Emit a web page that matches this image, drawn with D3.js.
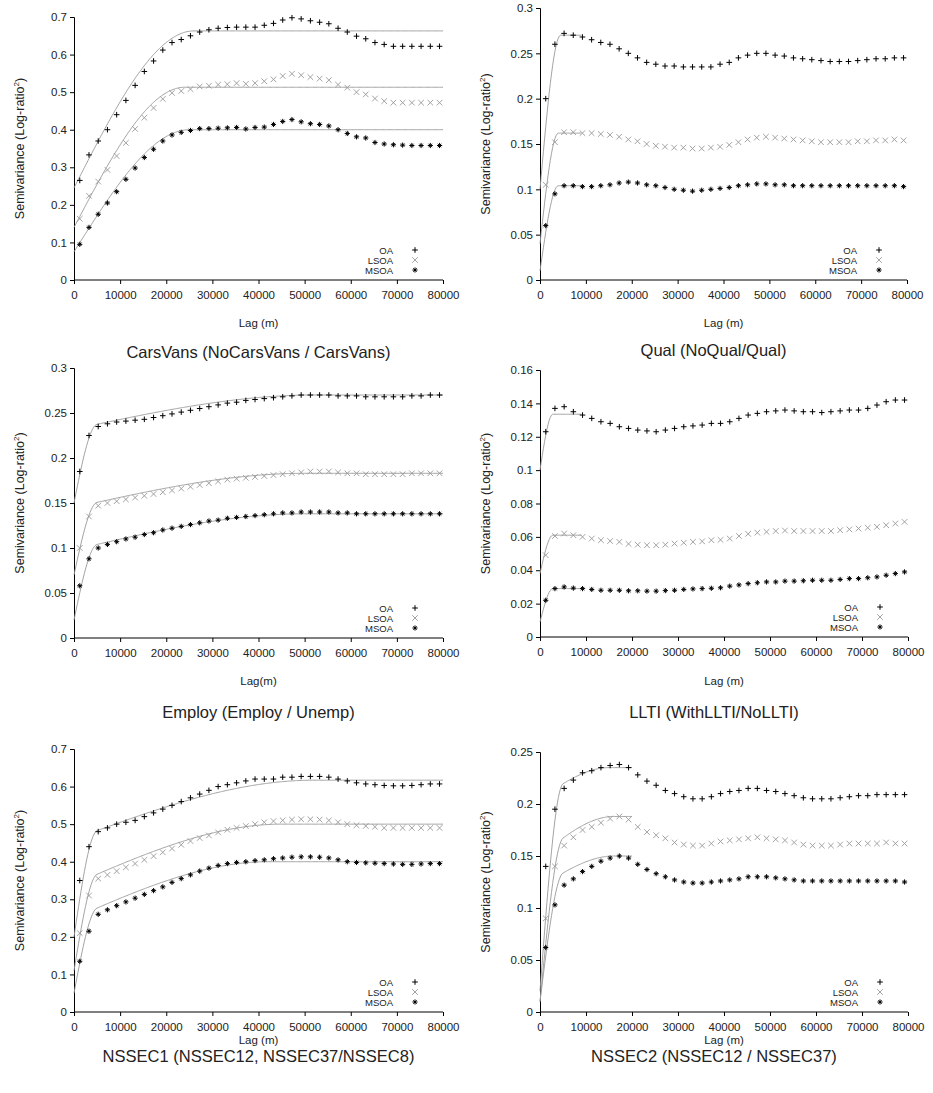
<!DOCTYPE html>
<html><head><meta charset="utf-8">
<script src="https://cdn.jsdelivr.net/npm/d3@7"></script>
<style>body{margin:0;background:#fff;font-family:"Liberation Sans",Arial,sans-serif}</style>
</head><body>
<script>
// lag centres (m), one bin every 2000 m
const lags = d3.range(40).map(i => 1250 + 2000 * i)
const xTicks = d3.range(0, 80001, 10000)

const titles = ['CarsVans (NoCarsVans / CarsVans)', 'Qual (NoQual/Qual)', 'Employ (Employ / Unemp)',
    'LLTI (WithLLTI/NoLLTI)', 'NSSEC1 (NSSEC12, NSSEC37/NSSEC8)', 'NSSEC2 (NSSEC12 / NSSEC37)']
const xLabels = ['Lag (m)', 'Lag (m)', 'Lag(m)', 'Lag (m)', 'Lag (m)', 'Lag (m)']
const yMax = [0.7, 0.3, 0.3, 0.16, 0.7, 0.25]
const yStep = [0.1, 0.05, 0.05, 0.02, 0.1, 0.05]

const carsOA = [0.265,0.333,0.37,0.40,0.44,0.478,0.518,0.555,0.583,0.612,0.632,0.64,0.65,0.66,0.666,0.67,0.672,0.673,0.673,0.673,0.678,0.683,0.692,0.698,0.695,0.69,0.686,0.682,0.67,0.66,0.649,0.642,0.632,0.627,0.622,0.622,0.622,0.622,0.622,0.622]
const carsLSOA = [0.163,0.224,0.262,0.293,0.33,0.365,0.402,0.432,0.458,0.482,0.498,0.503,0.508,0.515,0.517,0.52,0.521,0.524,0.522,0.524,0.529,0.534,0.543,0.549,0.545,0.54,0.536,0.532,0.52,0.512,0.5,0.494,0.483,0.476,0.472,0.472,0.472,0.472,0.472,0.472]
const carsMSOA = [0.095,0.14,0.175,0.205,0.235,0.268,0.298,0.326,0.348,0.37,0.386,0.393,0.398,0.403,0.403,0.404,0.405,0.406,0.402,0.406,0.407,0.414,0.422,0.427,0.421,0.416,0.414,0.41,0.4,0.39,0.381,0.378,0.366,0.362,0.36,0.359,0.358,0.358,0.358,0.358]

const qualOA = [0.2,0.26,0.272,0.27,0.268,0.265,0.262,0.26,0.255,0.25,0.245,0.24,0.238,0.236,0.236,0.235,0.235,0.235,0.235,0.238,0.24,0.245,0.248,0.25,0.25,0.248,0.247,0.245,0.244,0.243,0.242,0.241,0.241,0.241,0.242,0.243,0.244,0.244,0.245,0.245]
const qualLSOA = [0.105,0.152,0.163,0.163,0.162,0.162,0.161,0.16,0.158,0.155,0.153,0.15,0.148,0.147,0.146,0.146,0.145,0.145,0.146,0.147,0.149,0.152,0.155,0.157,0.158,0.157,0.156,0.155,0.154,0.153,0.152,0.152,0.152,0.152,0.153,0.153,0.154,0.154,0.155,0.154]
const qualMSOA = [0.06,0.095,0.104,0.104,0.103,0.103,0.104,0.105,0.107,0.108,0.107,0.105,0.104,0.102,0.1,0.099,0.098,0.099,0.1,0.101,0.102,0.104,0.105,0.106,0.106,0.105,0.105,0.104,0.104,0.104,0.104,0.104,0.104,0.104,0.104,0.104,0.104,0.104,0.104,0.103]

const empOA = [0.185,0.225,0.235,0.238,0.24,0.241,0.242,0.243,0.245,0.247,0.249,0.251,0.253,0.255,0.257,0.259,0.261,0.262,0.264,0.265,0.266,0.267,0.268,0.269,0.27,0.27,0.27,0.27,0.269,0.269,0.269,0.268,0.268,0.268,0.268,0.268,0.269,0.269,0.27,0.27]
const empLSOA = [0.1,0.135,0.147,0.15,0.152,0.154,0.156,0.158,0.16,0.162,0.164,0.166,0.168,0.17,0.172,0.174,0.176,0.177,0.178,0.179,0.18,0.181,0.182,0.183,0.184,0.185,0.185,0.185,0.184,0.183,0.183,0.182,0.182,0.182,0.182,0.182,0.183,0.183,0.183,0.183]
const empMSOA = [0.058,0.088,0.1,0.104,0.107,0.11,0.112,0.115,0.117,0.12,0.122,0.124,0.126,0.128,0.13,0.131,0.133,0.134,0.135,0.136,0.137,0.138,0.139,0.139,0.14,0.14,0.14,0.14,0.139,0.139,0.138,0.138,0.138,0.138,0.138,0.138,0.138,0.138,0.138,0.138]

const lltiOA = [0.123,0.137,0.138,0.135,0.133,0.131,0.129,0.128,0.126,0.125,0.124,0.1235,0.123,0.124,0.125,0.126,0.1265,0.127,0.128,0.128,0.129,0.131,0.133,0.134,0.135,0.1355,0.136,0.1355,0.135,0.135,0.1345,0.135,0.1355,0.136,0.136,0.137,0.139,0.141,0.142,0.142]
const lltiLSOA = [0.049,0.0605,0.062,0.061,0.06,0.059,0.058,0.0575,0.057,0.0558,0.0553,0.055,0.055,0.0553,0.056,0.0565,0.057,0.0573,0.058,0.0582,0.059,0.0605,0.0618,0.0625,0.063,0.0635,0.0638,0.0635,0.0635,0.0635,0.0635,0.0635,0.064,0.0645,0.065,0.0655,0.066,0.067,0.068,0.069]
const lltiMSOA = [0.022,0.029,0.03,0.0293,0.029,0.0285,0.028,0.028,0.028,0.0277,0.0277,0.0275,0.0275,0.0278,0.028,0.0285,0.0288,0.029,0.0292,0.0295,0.0305,0.0312,0.032,0.0325,0.033,0.033,0.0335,0.0335,0.0337,0.034,0.034,0.034,0.0345,0.035,0.035,0.0355,0.036,0.037,0.038,0.039]

const ns1OA = [0.35,0.44,0.48,0.49,0.5,0.505,0.51,0.52,0.53,0.54,0.55,0.56,0.57,0.58,0.59,0.6,0.605,0.61,0.615,0.62,0.62,0.62,0.625,0.625,0.627,0.627,0.627,0.625,0.62,0.615,0.61,0.607,0.605,0.603,0.602,0.602,0.603,0.605,0.607,0.607]
const ns1LSOA = [0.21,0.31,0.355,0.365,0.375,0.385,0.395,0.405,0.415,0.425,0.435,0.445,0.455,0.463,0.47,0.478,0.485,0.49,0.495,0.5,0.505,0.508,0.51,0.512,0.513,0.513,0.512,0.51,0.505,0.5,0.497,0.495,0.493,0.49,0.49,0.49,0.49,0.49,0.49,0.49]
const ns1MSOA = [0.135,0.215,0.26,0.272,0.283,0.293,0.303,0.313,0.323,0.333,0.345,0.355,0.365,0.375,0.383,0.39,0.395,0.398,0.4,0.403,0.405,0.408,0.41,0.412,0.413,0.413,0.412,0.41,0.405,0.4,0.398,0.397,0.396,0.395,0.394,0.393,0.393,0.394,0.395,0.395]

const ns2OA = [0.14,0.195,0.215,0.223,0.23,0.232,0.235,0.237,0.238,0.235,0.228,0.222,0.218,0.213,0.21,0.207,0.205,0.205,0.207,0.21,0.212,0.213,0.215,0.215,0.213,0.212,0.21,0.208,0.206,0.205,0.205,0.205,0.206,0.207,0.208,0.208,0.209,0.209,0.209,0.209]
const ns2LSOA = [0.09,0.14,0.16,0.168,0.175,0.178,0.182,0.186,0.188,0.185,0.178,0.173,0.17,0.167,0.163,0.161,0.16,0.16,0.162,0.164,0.165,0.166,0.167,0.168,0.167,0.166,0.165,0.163,0.161,0.16,0.16,0.16,0.161,0.162,0.162,0.162,0.162,0.163,0.162,0.162]
const ns2MSOA = [0.062,0.103,0.122,0.128,0.135,0.14,0.145,0.148,0.15,0.148,0.142,0.137,0.133,0.13,0.127,0.125,0.124,0.124,0.125,0.126,0.127,0.128,0.13,0.13,0.13,0.129,0.128,0.127,0.126,0.126,0.126,0.126,0.126,0.126,0.126,0.126,0.126,0.126,0.126,0.125]

const points = [[carsOA, carsLSOA, carsMSOA], [qualOA, qualLSOA, qualMSOA], [empOA, empLSOA, empMSOA],
    [lltiOA, lltiLSOA, lltiMSOA], [ns1OA, ns1LSOA, ns1MSOA], [ns2OA, ns2LSOA, ns2MSOA]]

// fitted (nested spherical) models: [nugget, c1, a1, c2, a2, drawn up to]
const models = [
    [[0.245, 0.418, 26000, 0, 1, 80000], [0.14, 0.373, 24000, 0, 1, 80000], [0.075, 0.325, 25000, 0, 1, 80000]],
    [[0.1, 0.17, 4500, 0, 1, 9000], [0.04, 0.122, 4000, 0, 1, 9000], [0.01, 0.094, 4000, 0, 1, 9000]],
    [[0.15, 0.082, 5000, 0.038, 52000, 80000], [0.07, 0.075, 5000, 0.038, 50000, 80000], [0.02, 0.078, 5000, 0.04, 50000, 80000]],
    [[0.1, 0.0335, 2800, 0, 1, 9000], [0.038, 0.023, 2800, 0, 1, 9000], [0.009, 0.02, 2800, 0, 1, 9000]],
    [[0.2, 0.26, 5000, 0.157, 52000, 80000], [0.11, 0.23, 5000, 0.16, 45000, 80000], [0.05, 0.2, 5000, 0.15, 42000, 80000]],
    [[0.02, 0.185, 5000, 0.03, 15000, 20000], [0.01, 0.14, 5000, 0.038, 16000, 20000], [0.01, 0.11, 5000, 0.03, 16000, 20000]]
]
const seriesNames = ['OA', 'LSOA', 'MSOA']

// panel placement: [left, right, top(for yMax), bottom(for 0), lag label y, title y]
const panels = [
    [74, 443, 17, 280, 327, 358], [540, 907, 8, 280, 327, 356],
    [74, 443, 368, 638, 685, 718], [540, 908, 370, 637, 685, 718],
    [74, 443, 749, 1012, 1044, 1062], [540, 908, 752, 1012, 1044, 1062]
]

const svg = d3.select('body').append('svg').attr('width', 933).attr('height', 1093)

const sph = (h, c, a) => h >= a ? c : c * (1.5 * h / a - 0.5 * Math.pow(h / a, 3))

function marker(g, k, color) {
    const s = 2.8
    let d
    if (k === 1) d = `M${-s},${-s}L${s},${s}M${-s},${s}L${s},${-s}`
    else if (k === 0) d = `M${-s},0H${s}M0,${-s}V${s}`
    else d = `M-2.6,0H2.6M0,-2.6V2.6M-1.7,-1.7L1.7,1.7M-1.7,1.7L1.7,-1.7`
    g.append('path').attr('d', d).attr('stroke', color).attr('stroke-width', k === 1 ? 0.9 : 1).attr('fill', 'none')
}
const colors = ['#000', '#999', '#000']

panels.forEach((p, pi) => {
    const [l, r, t, b, lagY, titleY] = p
    const x = d3.scaleLinear().domain([0, 80000]).range([l, r])
    const y = d3.scaleLinear().domain([0, yMax[pi]]).range([b, t])
    const g = svg.append('g').style('font-family', '"Liberation Sans",Arial,sans-serif')

    const yTicks = d3.range(0, yMax[pi] + yStep[pi] / 2, yStep[pi])
    g.append('g').attr('transform', `translate(${l},0)`)
        .call(d3.axisLeft(y).tickValues(yTicks).tickSize(4).tickFormat(d => +d.toFixed(3)))
        .call(a => a.selectAll('text').style('font-size', '11.5px').attr('fill', '#222'))
    g.append('g').attr('transform', `translate(0,${b})`)
        .call(d3.axisBottom(x).tickValues(xTicks).tickSize(4).tickFormat(d3.format('d')))
        .call(a => a.select('.domain').attr('d', `M${l},0H${r}`))
        .call(a => a.selectAll('text').style('font-size', '11.5px').attr('fill', '#222').attr('dy', '1em'))

    const yl = g.append('text').attr('transform', `translate(${l - 50},${(t + b) / 2}) rotate(-90)`)
        .attr('text-anchor', 'middle').style('font-size', '12.5px').attr('fill', '#222')
    yl.append('tspan').text('Semivariance (Log-ratio')
    yl.append('tspan').text('2').attr('dy', -5).style('font-size', '8px')
    yl.append('tspan').text(')').attr('dy', 5)

    g.append('text').attr('x', (l + r) / 2).attr('y', lagY).attr('text-anchor', 'middle')
        .style('font-size', '11.5px').attr('fill', '#222').text(xLabels[pi])
    g.append('text').attr('x', (l + r) / 2 + (pi % 2 ? -10 : 0)).attr('y', titleY).attr('text-anchor', 'middle')
        .style('font-size', '16.5px').attr('fill', '#222').text(titles[pi])

    models[pi].forEach(m => {
        const [c0, c1, a1, c2, a2, end] = m
        const hs = d3.range(0, end + 1, 250)
        g.append('path').datum(hs)
            .attr('d', d3.line().x(h => x(h)).y(h => y(c0 + sph(h, c1, a1) + (c2 ? sph(h, c2, a2) : 0))))
            .attr('fill', 'none').attr('stroke', '#999').attr('stroke-width', 0.9)
    })

    points[pi].forEach((vals, k) => {
        vals.forEach((v, i) => {
            marker(g.append('g').attr('transform', `translate(${x(lags[i])},${y(v)})`), k, colors[k])
        })
    })

    seriesNames.forEach((n, k) => {
        const ly = b - 30 + k * 10
        g.append('text').attr('x', r - 50).attr('y', ly + 4).attr('text-anchor', 'end')
            .style('font-size', '9.5px').attr('fill', '#222').text(n)
        marker(g.append('g').attr('transform', `translate(${r - 28},${ly})`), k, colors[k])
    })
})
</script>
</body></html>
